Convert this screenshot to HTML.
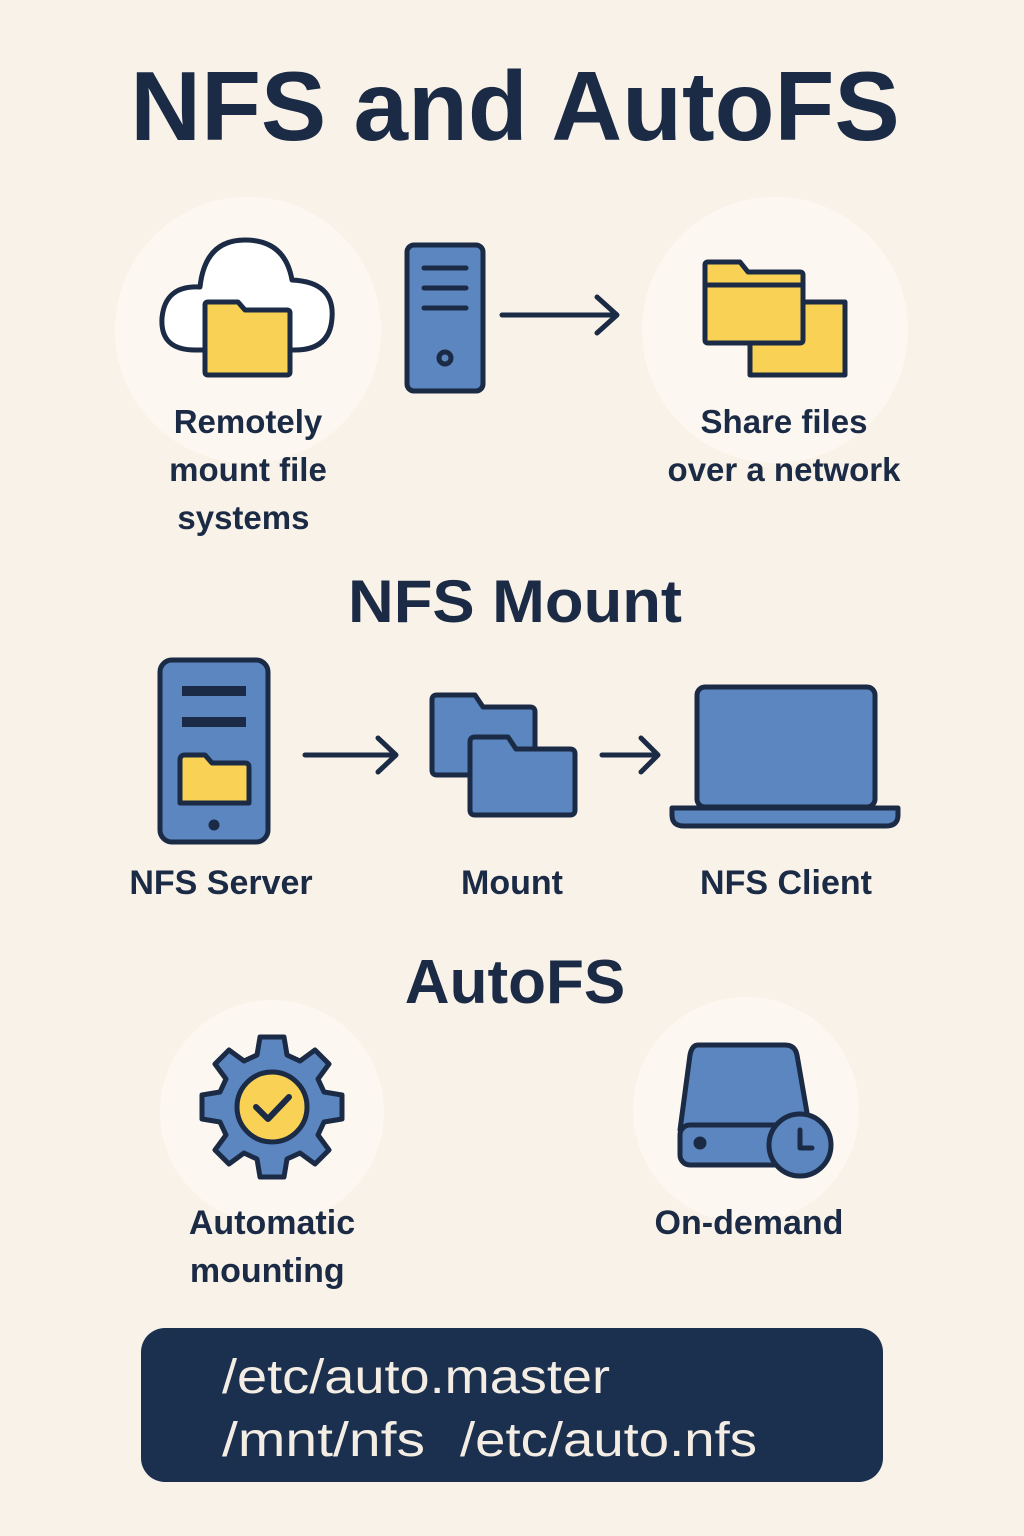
<!DOCTYPE html>
<html><head><meta charset="utf-8"><style>
html,body{margin:0;padding:0;background:#f9f2e8;}
svg{display:block;}
text{font-family:"Liberation Sans","DejaVu Sans",sans-serif;fill:#1b2a45;}
</style></head><body>
<svg width="1024" height="1536" viewBox="0 0 1024 1536" xmlns="http://www.w3.org/2000/svg">
<rect width="1024" height="1536" fill="#f9f2e8"/>
<text x="515" y="140" font-size="98" font-weight="bold" text-anchor="middle">NFS and AutoFS</text>

<circle cx="248" cy="330" r="133" fill="#fcf8f1"/>
<circle cx="775" cy="330" r="133" fill="#fcf8f1"/>
<circle cx="272" cy="1112" r="112" fill="#fcf8f1"/>
<circle cx="746" cy="1110" r="113" fill="#fcf8f1"/>

<g stroke="#1b2a45" stroke-width="5" stroke-linejoin="round" stroke-linecap="round">
<path d="M195 350 Q160 350 162 318 Q165 285 200 287 Q205 240 245 240 Q285 240 292 280 Q335 282 332 318 Q330 350 295 350 Z" fill="#fff"/>
<path d="M205 312 L205 305 Q205 302 208 302 L238 302 L245 310 L287 310 Q290 310 290 313 L290 372 Q290 375 287 375 L208 375 Q205 375 205 372 Z" fill="#f8d155"/>
<rect x="407" y="245" width="76" height="146" rx="7" fill="#5b86c0"/>
<line x1="424" y1="268" x2="466" y2="268"/><line x1="424" y1="288" x2="466" y2="288"/><line x1="424" y1="308" x2="466" y2="308"/>
<circle cx="445" cy="358" r="6" fill="none"/>
<line x1="502" y1="315" x2="615" y2="315"/><path d="M597 297 L617 315 L597 333" fill="none"/>
<path d="M750 300 L750 375 L845 375 L845 302 L800 302 L795 298 Z" fill="#f8d155"/>
<path d="M705 265 Q705 262 708 262 L740 262 L748 272 L800 272 Q803 272 803 275 L803 340 Q803 343 800 343 L708 343 Q705 343 705 340 Z" fill="#f8d155"/>
<line x1="705" y1="285" x2="803" y2="285"/>

<rect x="160" y="660" width="108" height="182" rx="12" fill="#5b86c0"/>
<line x1="182" y1="691" x2="246" y2="691" stroke-width="10" stroke-linecap="butt"/>
<line x1="182" y1="722" x2="246" y2="722" stroke-width="10" stroke-linecap="butt"/>
<path d="M180 760 Q180 755 185 755 L205 755 L212 763 L245 763 Q249 763 249 767 L249 803 L180 803 Z" fill="#f8d155"/>
<circle cx="214" cy="825" r="3" fill="#1b2a45"/>
<line x1="305" y1="755" x2="395" y2="755"/><path d="M378 738 L396 755 L378 772" fill="none"/>
<path d="M432 700 Q432 695 437 695 L475 695 L483 707 L530 707 Q535 707 535 712 L535 770 Q535 775 530 775 L437 775 Q432 775 432 770 Z" fill="#5b86c0"/>
<path d="M470 742 Q470 737 475 737 L508 737 L516 749 L570 749 Q575 749 575 754 L575 810 Q575 815 570 815 L475 815 Q470 815 470 810 Z" fill="#5b86c0"/>
<line x1="602" y1="755" x2="657" y2="755"/><path d="M641 738 L658 755 L641 772" fill="none"/>
<rect x="697" y="687" width="178" height="120" rx="8" fill="#5b86c0"/>
<path d="M672 808 L898 808 L898 815 Q898 826 886 826 L684 826 Q672 826 672 815 Z" fill="#5b86c0"/>

<g transform="translate(272,1107)">
<path d="M-12 -70 L12 -70 L15 -52 L28 -46 L43 -57 L57 -43 L46 -28 L52 -15 L70 -12 L70 12 L52 15 L46 28 L57 43 L43 57 L28 46 L15 52 L12 70 L-12 70 L-15 52 L-28 46 L-43 57 L-57 43 L-46 28 L-52 15 L-70 12 L-70 -12 L-52 -15 L-46 -28 L-57 -43 L-43 -57 L-28 -46 L-15 -52 Z" fill="#5b86c0"/>
<circle r="35" fill="#f8d155"/>
<path d="M-16 0 L-4 12 L17 -10" fill="none" stroke-width="6"/>
</g>
<path d="M698 1045 L785 1045 Q795 1045 797 1055 L810 1130 L680 1130 L690 1055 Q692 1045 698 1045 Z" fill="#5b86c0"/>
<rect x="680" y="1125" width="130" height="40" rx="10" fill="#5b86c0"/>
<circle cx="700" cy="1143" r="4" fill="#1b2a45"/>
<circle cx="800" cy="1145" r="31" fill="#5b86c0"/>
<path d="M800 1130 L800 1148 L812 1148" fill="none"/>
</g>

<text font-size="33" text-anchor="middle" font-weight="bold">
<tspan x="248" y="433">Remotely</tspan><tspan x="248" y="481">mount file</tspan><tspan x="248" y="529">systems</tspan>
<tspan x="784" y="433">Share files</tspan><tspan x="784" y="481">over a network</tspan>
</text>
<text x="348" y="622" font-size="60" font-weight="bold" textLength="334" lengthAdjust="spacingAndGlyphs">NFS Mount</text>
<text font-size="34" text-anchor="middle" font-weight="bold">
<tspan x="221" y="894">NFS Server</tspan><tspan x="512" y="894">Mount</tspan><tspan x="786" y="894">NFS Client</tspan>
</text>
<text x="515" y="1003" font-size="62" font-weight="bold" text-anchor="middle">AutoFS</text>
<text font-size="34" text-anchor="middle" font-weight="bold">
<tspan x="272" y="1234">Automatic</tspan><tspan x="272" y="1282">mounting</tspan>
<tspan x="749" y="1234">On-demand</tspan>
</text>

<rect x="141" y="1328" width="742" height="154" rx="24" fill="#1b2f4e"/>
<g font-size="48" style="fill:#f3ede4">
<text x="222" y="1393" style="fill:#f3ede4" textLength="388" lengthAdjust="spacingAndGlyphs">/etc/auto.master</text>
<text x="222" y="1456" style="fill:#f3ede4" textLength="203" lengthAdjust="spacingAndGlyphs">/mnt/nfs</text>
<text x="460" y="1456" style="fill:#f3ede4" textLength="297" lengthAdjust="spacingAndGlyphs">/etc/auto.nfs</text>
</g>
</svg>
</body></html>
